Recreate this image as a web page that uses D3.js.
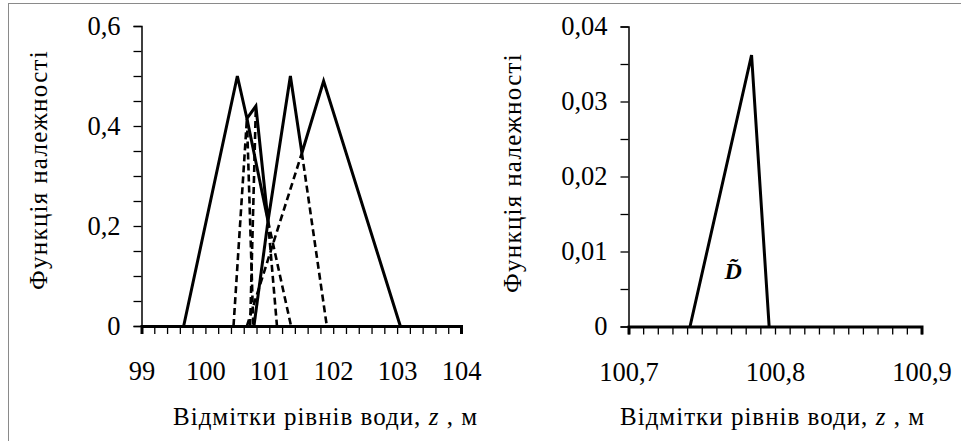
<!DOCTYPE html>
<html>
<head>
<meta charset="utf-8">
<script src="https://cdn.jsdelivr.net/npm/d3@7"></script>
<style>
    body { margin: 0; background: #fff; }
    svg text { font-family: "Liberation Serif", "DejaVu Serif", "Noto Serif", "Times New Roman", serif; fill: #000; }
</style>
</head>
<body>
<svg id="chart" width="961" height="441"></svg>
<script>
/***** Data */

// left panel - water level membership functions
const leftXDomain = [99, 104];
const leftYDomain = [0, 0.6];
const leftXLabels = [99, 100, 101, 102, 103, 104];
const leftYLabels = [0, 0.2, 0.4, 0.6];

// solid strokes, each one a list of [level, membership]
const leftSolid = [
    [[99.66, 0], [100.5, 0.5], [100.65, 0.415], [100.79, 0.44], [100.98, 0.21],
     [101.33, 0.5], [101.51, 0.346], [101.85, 0.49], [103.05, 0]],
    [[100.76, 0], [100.98, 0.21]],
    [[100.65, 0.415], [100.98, 0.21]]
];

// dashed strokes
const leftDashed = [
    [[100.44, 0], [100.65, 0.415], [100.75, 0]],
    [[100.7, 0], [100.79, 0.44]],
    [[100.98, 0.21], [101.12, 0]],
    [[100.98, 0.21], [101.34, 0]],
    [[101.51, 0.346], [101.9, 0]],
    [[100.65, 0], [101.51, 0.346]]
];

// right panel - resulting fuzzy number D
const rightXDomain = [100.7, 100.9];
const rightYDomain = [0, 0.04];
const rightXLabels = [100.7, 100.8, 100.9];
const rightYLabels = [0, 0.01, 0.02, 0.03, 0.04];
const rightSolid = [
    [[100.742, 0], [100.784, 0.0362], [100.796, 0]]
];

/***** Drawing */

const svg = d3.select('#chart');

const locale = d3.formatLocale({ decimal: ',', thousands: ' ', grouping: [3], currency: ['', ''] });
const fmt = locale.format('');

const hasLabel = (labels, d) => labels.some(l => Math.abs(l - d) < 1e-9);

// stretch a text to the width it has in the picture
const fitWidth = (textSel, width) => {
    const node = textSel.node();
    const current = node.getComputedTextLength();
    const chars = node.textContent.length;
    textSel.attr('letter-spacing', (width - current) / chars);
};

// frame of the picture (only left and top edges are visible)
svg.append('rect')
    .attr('x', 8.5).attr('y', 3.5)
    .attr('width', 1000).attr('height', 500)
    .attr('fill', 'none')
    .attr('stroke', '#8a8a8a');

function drawPanel (cfg) {
    const g = svg.append('g');

    const x = d3.scaleLinear().domain(cfg.xDomain).range(cfg.xRange);
    const y = d3.scaleLinear().domain(cfg.yDomain).range(cfg.yRange);

    // y axis
    const yAxis = g.append('g')
        .attr('transform', `translate(${cfg.xRange[0]},0)`)
        .call(d3.axisLeft(y)
            .tickValues(y.ticks(cfg.yTickCount))
            .tickSizeOuter(0)
            .tickSize(8)
            .tickPadding(13)
            .tickFormat(d => hasLabel(cfg.yLabels, d) ? fmt(d) : ''));
    yAxis.attr('font-family', null);
    yAxis.select('.domain').attr('stroke-width', 1.5);
    yAxis.selectAll('.tick line').attr('stroke-width', 1.3);
    yAxis.selectAll('.tick text').attr('font-size', 26.5);

    // x axis, baseline is drawn as thick as the curves
    const xAxis = g.append('g')
        .attr('transform', `translate(0,${cfg.yRange[0]})`)
        .call(d3.axisBottom(x)
            .tickValues(x.ticks(cfg.xTickCount))
            .tickSizeOuter(0)
            .tickSize(8)
            .tickFormat(d => hasLabel(cfg.xLabels, d) ? fmt(d) : ''));
    xAxis.attr('font-family', null);
    xAxis.select('.domain').attr('stroke-width', 3);
    xAxis.selectAll('.tick line').attr('stroke-width', 1.3);
    xAxis.selectAll('.tick text')
        .attr('y', 54)
        .attr('dy', 0)
        .attr('font-size', 26.5);

    const line = d3.line()
        .x(d => x(d[0]))
        .y(d => y(d[1]));

    g.selectAll('.solidLine')
        .data(cfg.solid)
        .enter()
        .append('path')
        .attr('class', 'solidLine')
        .attr('d', line)
        .attr('fill', 'none')
        .attr('stroke', '#000')
        .attr('stroke-width', 3)
        .attr('stroke-linejoin', 'miter');

    g.selectAll('.dashedLine')
        .data(cfg.dashed || [])
        .enter()
        .append('path')
        .attr('class', 'dashedLine')
        .attr('d', line)
        .attr('fill', 'none')
        .attr('stroke', '#000')
        .attr('stroke-width', 2.6)
        .attr('stroke-dasharray', '7,4');

    // axis titles
    const yTitle = g.append('text')
        .attr('transform', `translate(${cfg.yTitleX},${cfg.yTitleY}) rotate(-90)`)
        .attr('text-anchor', 'middle')
        .attr('font-size', 25)
        .text('Функція належності');
    fitWidth(yTitle, 240);

    const xTitle = g.append('text')
        .attr('x', cfg.xTitleX)
        .attr('y', 425)
        .attr('font-size', 25);
    xTitle.append('tspan').text('Відмітки рівнів води, ');
    xTitle.append('tspan').attr('font-style', 'italic').text('z');
    xTitle.append('tspan').text(' , м');
    fitWidth(xTitle, 305);

    return { g, x, y };
}

drawPanel({
    xDomain: leftXDomain, yDomain: leftYDomain,
    xRange: [141.5, 461], yRange: [326, 26],
    xTickCount: 25, yTickCount: 12,
    xLabels: leftXLabels, yLabels: leftYLabels,
    solid: leftSolid, dashed: leftDashed,
    yTitleX: 47, yTitleY: 170, xTitleX: 173
});

const right = drawPanel({
    xDomain: rightXDomain, yDomain: rightYDomain,
    xRange: [628.5, 921.5], yRange: [326.5, 26.5],
    xTickCount: 20, yTickCount: 8,
    xLabels: rightXLabels, yLabels: rightYLabels,
    solid: rightSolid, dashed: [],
    yTitleX: 521, yTitleY: 173, xTitleX: 620
});

// name of the fuzzy number inside the triangle
right.g.append('text')
    .attr('x', right.x(100.7715))
    .attr('y', right.y(0.0064))
    .attr('text-anchor', 'middle')
    .attr('font-size', 24)
    .attr('font-weight', 'bold')
    .attr('font-style', 'italic')
    .text('D\u0303');
</script>
</body>
</html>
